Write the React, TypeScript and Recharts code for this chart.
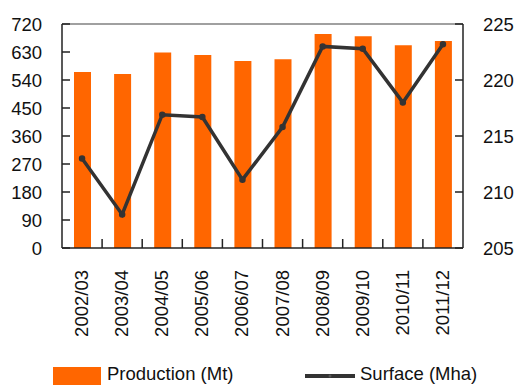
import React from 'react';
import { ComposedChart, Bar, Line, XAxis, YAxis, Legend, ReferenceLine } from 'recharts';

const seasons = ['2002/03', '2003/04', '2004/05', '2005/06', '2006/07', '2007/08', '2008/09', '2009/10', '2010/11', '2011/12'];
const production = [566, 559, 628, 620, 601, 607, 688, 681, 652, 665];
const surface = [213.0, 208.0, 216.9, 216.7, 211.1, 215.8, 223.0, 222.8, 218.0, 223.2];

const leftTicks = [0, 90, 180, 270, 360, 450, 540, 630, 720];
const rightTicks = [205, 210, 215, 220, 225];

const FONT = '"Liberation Sans", Arial, sans-serif';
const TEXT = '#111111';
const AXIS = '#222222';
const ORANGE = '#FF6600';
const LINE = '#333333';
const HALF_BAND = 20.05;

const data = seasons.map((season, i) => ({
  season,
  production: production[i],
  surface: surface[i],
}));

const LeftTick = ({ x, y, payload }: any) => (
  <g>
    <line x1={x} y1={y} x2={x + 8} y2={y} stroke={AXIS} strokeWidth={1.5} />
    <text x={x - 20} y={y} textAnchor="end" dominantBaseline="central" fontFamily={FONT} fontSize={18.5} fill={TEXT}>
      {payload.value}
    </text>
  </g>
);

const RightTick = ({ x, y, payload }: any) => (
  <g>
    <line x1={x - 8} y1={y} x2={x} y2={y} stroke={AXIS} strokeWidth={1.5} />
    <text x={x + 20} y={y} textAnchor="start" dominantBaseline="central" fontFamily={FONT} fontSize={18.5} fill={TEXT}>
      {payload.value}
    </text>
  </g>
);

const BottomTick = ({ x, y, payload, index }: any) => (
  <g>
    {index < seasons.length - 1 && (
      <line x1={x + HALF_BAND} y1={y} x2={x + HALF_BAND} y2={y - 9} stroke={AXIS} strokeWidth={1.5} />
    )}
    <text
      x={x + 6}
      y={y + 22}
      transform={`rotate(-90, ${x + 6}, ${y + 22})`}
      textAnchor="end"
      fontFamily={FONT}
      fontSize={18.5}
      fill={TEXT}
    >
      {payload.value}
    </text>
  </g>
);

const renderLegend = () => (
  <div style={{ position: 'relative', width: 516, height: 23, fontFamily: FONT, fontSize: 18.5, color: TEXT }}>
    <div style={{ position: 'absolute', left: 53, top: 5, width: 48, height: 18, background: ORANGE }} />
    <span style={{ position: 'absolute', left: 107, top: 2, lineHeight: '20px' }}>Production (Mt)</span>
    <svg style={{ position: 'absolute', left: 303, top: 9 }} width={54} height={10}>
      <line x1={2} y1={5} x2={52} y2={5} stroke={LINE} strokeWidth={4} />
      <circle cx={27} cy={5} r={1.5} fill="#555" />
    </svg>
    <span style={{ position: 'absolute', left: 360, top: 2, lineHeight: '20px' }}>Surface (Mha)</span>
  </div>
);

export default function App() {
  return (
    <div style={{ position: 'absolute', left: 0, top: 0, width: 516, height: 385, background: '#fff' }}>
      <ComposedChart width={516} height={385} data={data} margin={{ top: 24, right: 0, bottom: 0, left: 0 }}>
        <XAxis
          dataKey="season"
          height={137}
          interval={0}
          tickSize={0}
          tickMargin={0}
          tick={<BottomTick />}
          axisLine={{ stroke: AXIS, strokeWidth: 1.5 }}
          tickLine={false}
        />
        <YAxis
          yAxisId="left"
          width={62}
          domain={[0, 720]}
          ticks={leftTicks}
          interval={0}
          tickSize={0}
          tickMargin={0}
          tick={<LeftTick />}
          axisLine={{ stroke: AXIS, strokeWidth: 1.5 }}
          tickLine={false}
        />
        <YAxis
          yAxisId="right"
          orientation="right"
          width={53}
          domain={[205, 225]}
          ticks={rightTicks}
          interval={0}
          tickSize={0}
          tickMargin={0}
          tick={<RightTick />}
          axisLine={{ stroke: AXIS, strokeWidth: 1.5 }}
          tickLine={false}
        />
        <ReferenceLine yAxisId="left" y={720} stroke="#808080" strokeWidth={1.5} />
        <Bar yAxisId="left" dataKey="production" name="Production (Mt)" fill={ORANGE} barSize={17} isAnimationActive={false} />
        <Line
          yAxisId="right"
          dataKey="surface"
          name="Surface (Mha)"
          type="linear"
          stroke={LINE}
          strokeWidth={3.5}
          dot={{ r: 1.5, fill: LINE, stroke: LINE }}
          isAnimationActive={false}
        />
        <Legend
          layout="horizontal"
          verticalAlign="middle"
          content={renderLegend}
          wrapperStyle={{ top: 362, left: 0, width: 516 }}
        />
      </ComposedChart>
    </div>
  );
}
